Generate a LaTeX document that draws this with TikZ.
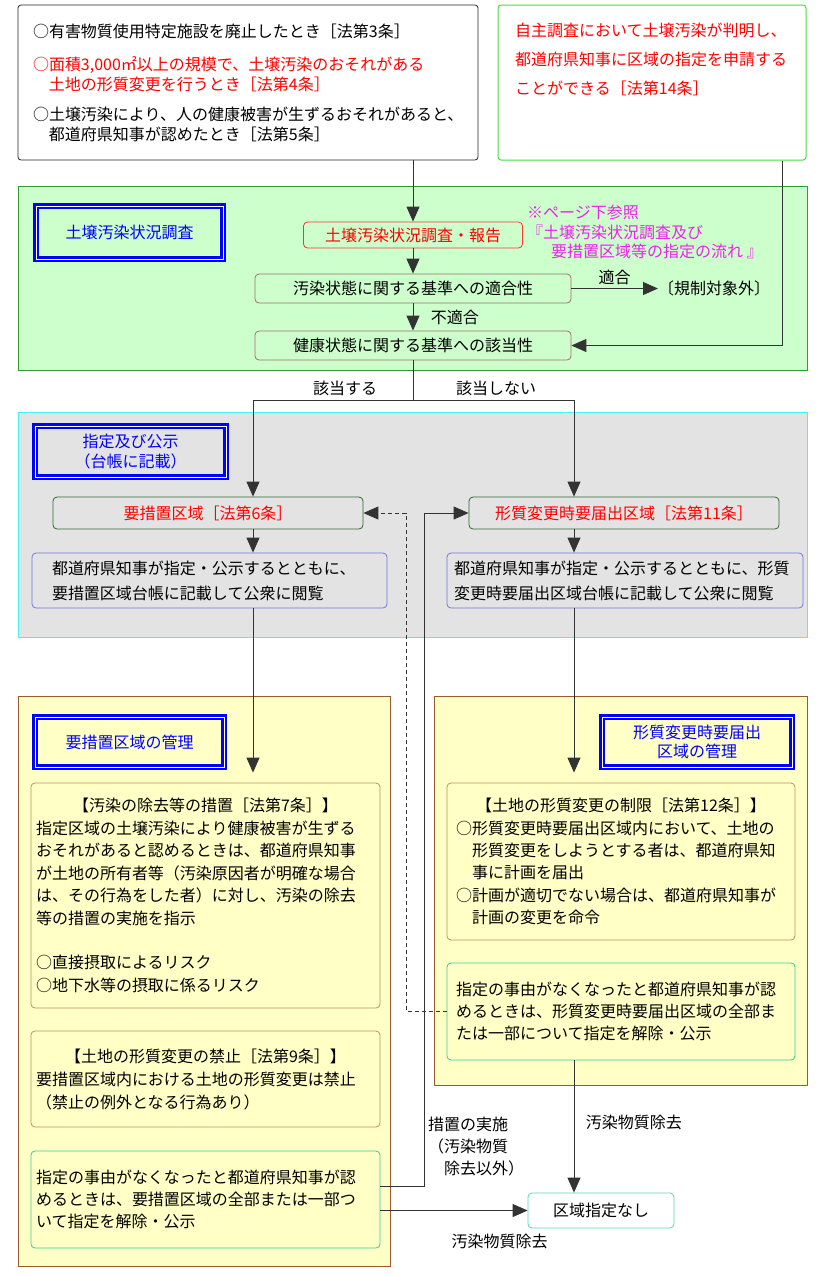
\documentclass[tikz,border=0pt]{standalone}
\usepackage{fontspec}
\setmainfont{Noto Sans CJK JP}
\usetikzlibrary{arrows.meta,positioning}
\definecolor{grnfill}{HTML}{CCFFCC}
\definecolor{grnline}{HTML}{339933}
\definecolor{gryfill}{HTML}{E3E3E3}
\definecolor{cyanline}{HTML}{44F4F4}
\definecolor{ylwfill}{HTML}{FFFFC6}
\definecolor{brnline}{HTML}{9C5A2A}
\definecolor{tanline}{HTML}{C09060}
\definecolor{tblue}{HTML}{0000FF}
\definecolor{limeline}{HTML}{44DD44}
\definecolor{redline}{HTML}{FF3333}
\definecolor{mauve}{HTML}{A07070}
\definecolor{darkgrn}{HTML}{336633}
\definecolor{lavline}{HTML}{7777DD}
\definecolor{tealline}{HTML}{33CC99}
\definecolor{magtext}{HTML}{EE22EE}
\tikzset{font=\fontsize{16}{22}\selectfont}
\tikzstyle{area}=[draw, line width=1pt, inner sep=0pt]
\tikzstyle{titl}=[draw=tblue, line width=2.5pt, double=white, double distance=0.8pt, text=tblue, align=center, inner sep=0pt]
\tikzstyle{flow}=[draw, line width=0.8pt, rounded corners=4pt, inner sep=0pt, align=center]
\tikzstyle{txtbox}=[draw, line width=0.8pt, rounded corners=4pt, align=left, inner ysep=0pt]
\tikzstyle{wire}=[draw=black!80, line width=0.9pt]
\begin{document}
\begin{tikzpicture}[x=1pt,y=-1pt,>={Triangle[length=15pt,width=13pt]}]
\useasboundingbox (0,0) rectangle (818,1275);
% areas
\node[area, draw=grnline, fill=grnfill, minimum width=789pt, minimum height=184pt] (green) at (412.5,278) {};
\node[area, draw=cyanline, fill=gryfill, minimum width=789pt, minimum height=225pt] (gray) at (412.5,524.5) {};
\node[area, draw=brnline, fill=ylwfill, minimum width=372pt, minimum height=570pt] (yellL) at (204,981) {};
\node[area, draw=brnline, fill=ylwfill, minimum width=373pt, minimum height=389pt] (yellR) at (620.5,890.5) {};
\coordinate (selfx) at (782,0);
\coordinate (colA) at (253,0);
\coordinate (colB) at (574,0);
\coordinate (colD) at (406,0);
\coordinate (colM) at (424,0);
% top
\node[txtbox, draw=black!85, rounded corners=3pt, text width=430pt, inner xsep=15pt, minimum height=155pt] (trig) at (248,82.5) {%
○有害物質使用特定施設を廃止したとき［法第3条］\\[11pt]
\textcolor{red}{○面積3,000㎡以上の規模で、土壌汚染のおそれがある}\\[-2pt]
\textcolor{red}{\hspace*{1em}土地の形質変更を行うとき［法第4条］}\\[8pt]
○土壌汚染により、人の健康被害が生ずるおそれがあると、\\[-2pt]
\hspace*{1em}都道府県知事が認めたとき［法第5条］};
\node[area, draw=limeline, rounded corners=3pt, minimum width=308pt, minimum height=155pt] (self) at (652,82.5) {};
\node[anchor=north west, align=left, inner sep=0pt, text=red, font=\fontsize{16}{29}\selectfont] (selftxt) at (515,23)
  {自主調査において土壌汚染が判明し、\\都道府県知事に区域の指定を申請する\\ことができる［法第14条］};
% survey
\node[titl, minimum width=187pt, minimum height=53pt] (h1) at (129.5,232.5) {土壌汚染状況調査};
\node[flow, draw=redline, text=red, minimum width=219pt, minimum height=26pt] (rep) at (413,235) {土壌汚染状況調査・報告};
\node[anchor=north west, align=left, inner sep=0pt, text=magtext, font=\fontsize{16}{19.5}\selectfont] (note) at (527,205)
  {※ページ下参照\\『土壌汚染状況調査及び\\\hspace*{1.5em}要措置区域等の指定の流れ 』};
\node[flow, draw=mauve, minimum width=316pt, minimum height=29pt] (fit) at (413,288.5) {汚染状態に関する基準への適合性};
\node[flow, draw=mauve, minimum width=316pt, minimum height=29pt] (health) at (413,345.5) {健康状態に関する基準への該当性};
\node[anchor=west, inner sep=0pt] (outside) at (658,288.5) {〔規制対象外〕};
% designation
\node[titl, minimum width=191pt, minimum height=51pt, font=\fontsize{16}{20}\selectfont] (h2) at (130.5,451.5) {指定及び公示\\（台帳に記載）};
\node[flow, draw=darkgrn, text=red, minimum width=310pt, minimum height=32pt] (zoneA) at (208,513) {要措置区域［法第6条］};
\node[flow, draw=darkgrn, text=red, minimum width=310pt, minimum height=32pt] (zoneB) at (624,513) {形質変更時要届出区域［法第11条］};
\node[txtbox, draw=lavline, text width=315pt, inner xsep=20pt, minimum height=55pt, font=\fontsize{16}{25}\selectfont] (descA) at (209.5,580.5)
  {都道府県知事が指定・公示するとともに、\\要措置区域台帳に記載して公衆に閲覧};
\node[txtbox, draw=lavline, text width=342pt, inner xsep=7pt, minimum height=55pt, font=\fontsize{16}{25}\selectfont] (descB) at (625,580.5)
  {都道府県知事が指定・公示するとともに、形質\\変更時要届出区域台帳に記載して公衆に閲覧};
% management
\node[titl, minimum width=189pt, minimum height=50pt] (h3) at (129.5,742) {要措置区域の管理};
\node[titl, minimum width=190pt, minimum height=50pt, font=\fontsize{16}{19}\selectfont] (h4) at (697,742) {形質変更時要届出\\区域の管理};
\node[txtbox, draw=tanline, text width=339pt, inner xsep=5pt, minimum height=225pt, font=\fontsize{16}{22.5}\selectfont] (L1) at (205.5,895.5) {%
\makebox[339pt]{【汚染の除去等の措置［法第7条］】}\\
指定区域の土壌汚染により健康被害が生ずる\\
おそれがあると認めるときは、都道府県知事\\
が土地の所有者等（汚染原因者が明確な場合\\
は、その行為をした者）に対し、汚染の除去\\
等の措置の実施を指示\\[22pt]
○直接摂取によるリスク\\
○地下水等の摂取に係るリスク};
\node[txtbox, draw=tanline, text width=339pt, inner xsep=5pt, minimum height=96pt, font=\fontsize{16}{23}\selectfont] (L2) at (205.5,1079) {%
\makebox[339pt]{【土地の形質変更の禁止［法第9条］】}\\
要措置区域内における土地の形質変更は禁止\\
（禁止の例外となる行為あり）};
\node[txtbox, draw=tealline, text width=339pt, inner xsep=5pt, minimum height=97pt] (L3) at (205.5,1199.5) {%
指定の事由がなくなったと都道府県知事が認\\
めるときは、要措置区域の全部または一部つ\\
いて指定を解除・公示};
\node[txtbox, draw=tanline, text width=330pt, inner xsep=9pt, minimum height=157pt, font=\fontsize{16}{22.4}\selectfont] (R1) at (621,861.5) {%
\makebox[330pt]{【土地の形質変更の制限［法第12条］】}\\
○形質変更時要届出区域内において、土地の\\
\hspace*{1em}形質変更をしようとする者は、都道府県知\\
\hspace*{1em}事に計画を届出\\
○計画が適切でない場合は、都道府県知事が\\
\hspace*{1em}計画の変更を命令};
\node[txtbox, draw=tealline, text width=330pt, inner xsep=9pt, minimum height=97pt] (R2) at (621,1011.5) {%
指定の事由がなくなったと都道府県知事が認\\
めるときは、形質変更時要届出区域の全部ま\\
たは一部について指定を解除・公示};
\node[flow, draw=tealline!80, fill=white, minimum width=146pt, minimum height=35pt] (kuiki) at (601,1210.5) {区域指定なし};
% connectors
\draw[wire,->] (rep |- trig.south) -- (rep);
\draw[wire,->] (rep) -- (fit);
\draw[wire,->] (fit) -- (outside) node[midway, above] {適合};
\draw[wire,->] (fit) -- (health) node[midway, right=14pt] {不適合};
\draw[wire,->] (self.south -| selfx) |- (health);
\coordinate (split) at (413,400);
\draw[wire] (health) -- (split);
\draw[wire,->] (split) -| (colA |- zoneA.north);
\draw[wire,->] (split) -| (colB |- zoneB.north);
\node (yes) at (345,388) {該当する};
\node (no) at (496,388) {該当しない};
\draw[wire,->] (zoneA.south -| colA) -- (colA |- descA.north);
\draw[wire,->] (zoneB.south -| colB) -- (colB |- descB.north);
\draw[wire,->,shorten >=10pt] (descA.south -| colA) -- (colA |- L1.north);
\draw[wire,->,shorten >=10pt] (descB.south -| colB) -- (colB |- R1.north);
\draw[wire,->,dash pattern=on 4pt off 3pt] (R2.west) -| (colD |- zoneA.east) -- (zoneA.east);
\draw[wire,->] (L3.east |- 0,1186) -| (colM |- zoneB.west) -- (zoneB.west);
\node[anchor=north west, align=left, inner sep=0pt] (measure) at (428,1117) {措置の実施\\（汚染物質\\\hspace*{1em}除去以外）};
\draw[wire,->] (R2.south -| colB) -- (colB |- kuiki.north) node[pos=0.47, right=8pt] {汚染物質除去};
\draw[wire,->] (L3.east |- kuiki.west) -- (kuiki.west) node[pos=0.81, below=20pt] {汚染物質除去};
\end{tikzpicture}
\end{document}
